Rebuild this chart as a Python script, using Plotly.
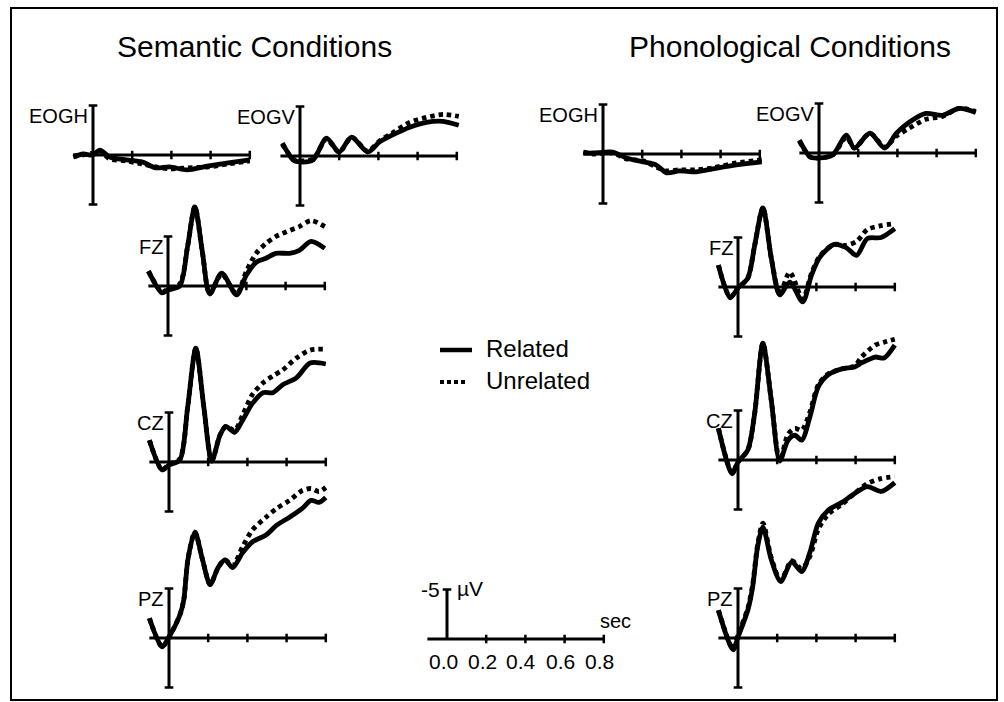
import plotly.graph_objects as go

# ---------------- data (µV, negative plotted up; time in s) ----------------
T_SEM_EOGH = [-0.1, -0.05, 0.0, 0.035, 0.086, 0.17, 0.25, 0.32, 0.39, 0.48, 0.59, 0.69, 0.80]
REL_SEM_EOGH = [0.2, -0.1, 0.0, -0.5, 0.2, 0.5, 0.7, 1.3, 1.2, 1.5, 1.1, 0.8, 0.5]
UNR_SEM_EOGH = [0.1, 0.0, -0.2, -0.4, 0.4, 0.6, 0.9, 1.2, 1.4, 1.3, 1.2, 0.9, 0.6]

T_SEM_EOGV = [-0.09, -0.035, 0.0, 0.067, 0.135, 0.2, 0.263, 0.345, 0.405, 0.47, 0.56, 0.645, 0.73, 0.81]
REL_SEM_EOGV = [-1.3, 0.4, 0.6, 0.4, -1.8, -0.4, -1.9, -0.4, -1.4, -2.1, -2.9, -3.4, -3.5, -3.1]
UNR_SEM_EOGV = [-1.2, 0.3, 0.5, 0.3, -1.7, -0.4, -1.9, -0.5, -1.5, -2.3, -3.4, -3.9, -4.2, -4.0]

T_SEM_FZ = [-0.1, -0.03, 0.0, 0.06, 0.1, 0.137, 0.175, 0.213, 0.274, 0.35, 0.40, 0.45, 0.50, 0.55, 0.62, 0.67, 0.73, 0.80]
REL_SEM_FZ = [-1.5, 0.7, 0.4, 0.0, -4.0, -8.0, -3.5, 0.8, -1.3, 0.9, -1.1, -2.4, -2.8, -3.3, -3.3, -3.6, -4.5, -3.8]
UNR_SEM_FZ = [-1.5, 0.6, 0.3, -0.2, -4.0, -8.0, -3.5, 0.8, -1.2, 0.8, -1.5, -3.3, -4.3, -5.0, -5.6, -6.0, -6.6, -6.0]

T_SEM_CZ = [-0.1, -0.035, 0.0, 0.055, 0.095, 0.137, 0.178, 0.218, 0.26, 0.29, 0.335, 0.375, 0.425, 0.48, 0.53, 0.58, 0.65, 0.72, 0.80]
REL_SEM_CZ = [-2.2, 0.8, 0.3, -0.2, -5.5, -11.5, -5.5, -0.1, -2.7, -3.6, -3.0, -4.2, -5.9, -7.0, -7.0, -7.8, -8.5, -10.0, -9.9]
UNR_SEM_CZ = [-2.2, 0.8, 0.2, -0.3, -5.5, -11.5, -5.5, -0.1, -2.7, -3.6, -3.2, -4.7, -6.8, -8.0, -8.7, -9.3, -10.5, -11.3, -11.4]

T_SEM_PZ = [-0.1, -0.035, 0.0, 0.055, 0.075, 0.097, 0.132, 0.17, 0.21, 0.25, 0.285, 0.325, 0.375, 0.425, 0.495, 0.55, 0.615, 0.68, 0.725, 0.765, 0.80]
REL_SEM_PZ = [-2.0, 0.9, -0.1, -2.3, -3.8, -8.0, -10.7, -8.0, -5.4, -7.1, -7.9, -7.1, -8.6, -9.7, -10.4, -11.4, -12.2, -13.1, -13.9, -13.7, -14.2]
UNR_SEM_PZ = [-2.0, 0.9, -0.1, -2.3, -3.8, -8.0, -10.7, -8.0, -5.4, -7.1, -7.9, -7.3, -9.2, -10.9, -12.2, -13.1, -13.9, -14.9, -15.1, -14.8, -15.2]

T_PHO_EOGH = [-0.1, -0.05, 0.05, 0.12, 0.205, 0.27, 0.325, 0.39, 0.475, 0.56, 0.68, 0.81]
REL_PHO_EOGH = [-0.1, -0.1, -0.2, 0.4, 0.8, 1.1, 1.9, 1.7, 1.8, 1.5, 1.1, 0.8]
UNR_PHO_EOGH = [-0.2, 0.0, -0.1, 0.5, 0.7, 1.3, 1.7, 1.6, 1.6, 1.4, 0.9, 0.6]

T_PHO_EOGV = [-0.1, -0.045, 0.0, 0.07, 0.14, 0.18, 0.26, 0.335, 0.395, 0.46, 0.545, 0.63, 0.715, 0.80]
REL_PHO_EOGV = [-1.3, 0.4, 0.5, 0.2, -1.8, -0.5, -2.0, -0.5, -2.0, -3.1, -4.0, -3.8, -4.5, -4.1]
UNR_PHO_EOGV = [-1.2, 0.4, 0.5, 0.2, -1.6, -0.5, -2.0, -0.6, -1.7, -2.5, -3.4, -3.7, -4.5, -4.2]

T_PHO_FZ = [-0.1, -0.04, 0.0, 0.05, 0.085, 0.127, 0.17, 0.213, 0.264, 0.33, 0.375, 0.417, 0.49, 0.55, 0.605, 0.66, 0.73, 0.80]
REL_PHO_FZ = [-2.2, 1.1, 0.1, -0.9, -4.2, -8.0, -2.9, 0.8, -0.5, 1.5, -1.2, -3.0, -4.3, -4.0, -3.2, -4.9, -5.0, -5.9]
UNR_PHO_FZ = [-2.2, 1.0, 0.1, -0.9, -4.2, -8.0, -2.9, 0.7, -1.5, 1.2, -1.4, -3.1, -4.3, -4.2, -4.6, -5.8, -6.2, -6.4]

T_PHO_CZ = [-0.1, -0.03, 0.0, 0.05, 0.085, 0.127, 0.17, 0.213, 0.255, 0.29, 0.325, 0.366, 0.41, 0.46, 0.53, 0.595, 0.63, 0.70, 0.745, 0.80]
REL_PHO_CZ = [-3.2, 1.4, 0.2, -1.0, -4.7, -11.8, -6.0, 0.1, -2.0, -2.5, -2.0, -4.3, -7.4, -8.6, -9.2, -9.4, -9.8, -10.4, -10.3, -11.6]
UNR_PHO_CZ = [-3.2, 1.3, 0.2, -1.0, -4.7, -11.8, -6.0, 0.1, -2.6, -3.2, -3.0, -4.8, -7.6, -8.7, -9.2, -9.5, -10.4, -11.6, -11.9, -12.2]

T_PHO_PZ = [-0.1, -0.025, 0.0, 0.05, 0.075, 0.10, 0.127, 0.17, 0.218, 0.274, 0.325, 0.366, 0.41, 0.46, 0.53, 0.595, 0.66, 0.73, 0.80]
REL_PHO_PZ = [-2.8, 1.2, -0.1, -2.8, -5.2, -9.2, -11.2, -7.9, -5.7, -7.7, -6.7, -8.6, -11.6, -12.9, -13.7, -14.6, -15.3, -14.8, -15.7]
UNR_PHO_PZ = [-2.8, 1.1, -0.3, -3.0, -5.4, -9.4, -11.6, -8.1, -5.8, -7.8, -7.0, -8.2, -11.0, -12.5, -13.5, -14.6, -15.6, -16.1, -16.3]

AXIS_TICKS = [0.2, 0.4, 0.6, 0.8]
SCALE_TICKS = [0.0, 0.2, 0.4, 0.6, 0.8]
TITLES = ["Semantic Conditions", "Phonological Conditions"]
LEGEND_NAMES = ["Related", "Unrelated"]

# ---------------- layout constants ----------------
W, H = 1004, 702
PX_S = 196.0     # pixels per second
PX_UV = 9.9      # pixels per microvolt
FONT = "Liberation Sans, Arial, Helvetica, sans-serif"
BLACK = "#000000"

# panel origin (pixel of t=0, v=0)
PANELS = [
    ("EOGH", T_SEM_EOGH, REL_SEM_EOGH, UNR_SEM_EOGH, 93, 155),
    ("EOGV", T_SEM_EOGV, REL_SEM_EOGV, UNR_SEM_EOGV, 300, 156),
    ("FZ", T_SEM_FZ, REL_SEM_FZ, UNR_SEM_FZ, 168, 286),
    ("CZ", T_SEM_CZ, REL_SEM_CZ, UNR_SEM_CZ, 169, 462),
    ("PZ", T_SEM_PZ, REL_SEM_PZ, UNR_SEM_PZ, 169, 638),
    ("EOGH", T_PHO_EOGH, REL_PHO_EOGH, UNR_PHO_EOGH, 603, 154),
    ("EOGV", T_PHO_EOGV, REL_PHO_EOGV, UNR_PHO_EOGV, 819, 153),
    ("FZ", T_PHO_FZ, REL_PHO_FZ, UNR_PHO_FZ, 738, 287),
    ("CZ", T_PHO_CZ, REL_PHO_CZ, UNR_PHO_CZ, 738, 460),
    ("PZ", T_PHO_PZ, REL_PHO_PZ, UNR_PHO_PZ, 738, 638),
]
SCALE_ORIGIN = (447, 639)

fig = go.Figure()
shapes = []
annotations = []


def make_axes(idx, ox, oy, xr=(-0.14, 0.88), yr=(-18.0, 6.5)):
    x0 = max(ox + xr[0] * PX_S, 0)
    x1 = min(ox + xr[1] * PX_S, W)
    ytop = max(oy + yr[0] * PX_UV, 0)
    ybot = min(oy + yr[1] * PX_UV, H)
    rx = [(x0 - ox) / PX_S, (x1 - ox) / PX_S]
    ry = [(ybot - oy) / PX_UV, (ytop - oy) / PX_UV]  # reversed: negative up
    sfx = "" if idx == 1 else str(idx)
    fig.layout["xaxis" + sfx] = dict(domain=[x0 / W, x1 / W], range=rx, visible=False,
                                     fixedrange=True, anchor="y" + sfx)
    fig.layout["yaxis" + sfx] = dict(domain=[1 - ybot / H, 1 - ytop / H], range=ry, visible=False,
                                     fixedrange=True, anchor="x" + sfx)
    return "x" + sfx, "y" + sfx


def seg(xref, yref, xa, ya, xb, yb, w=3):
    shapes.append(dict(type="line", xref=xref, yref=yref, x0=xa, y0=ya, x1=xb, y1=yb,
                       line=dict(color=BLACK, width=w)))


CAP = 0.022
TK = 0.42

for i, (label, t, rel, unr, ox, oy) in enumerate(PANELS, start=1):
    xr, yr = make_axes(i, ox, oy)
    # axes
    seg(xr, yr, -0.1, 0, 0.8, 0)
    for tk in AXIS_TICKS:
        seg(xr, yr, tk, -TK, tk, TK, 2.5)
    seg(xr, yr, 0, -5, 0, 5)
    seg(xr, yr, -CAP, -5, CAP, -5, 2.5)
    seg(xr, yr, -CAP, 5, CAP, 5, 2.5)
    # curves
    fig.add_trace(go.Scatter(x=t, y=unr, xaxis=xr, yaxis=yr, mode="lines",
                             line=dict(color=BLACK, width=4.8, dash="4.5px,4px", shape="spline", smoothing=0.8),
                             name=LEGEND_NAMES[1], showlegend=False, hoverinfo="skip"))
    fig.add_trace(go.Scatter(x=t, y=rel, xaxis=xr, yaxis=yr, mode="lines",
                             line=dict(color=BLACK, width=4.8, shape="spline", smoothing=0.8),
                             name=LEGEND_NAMES[0], showlegend=False, hoverinfo="skip"))
    annotations.append(dict(xref=xr, yref=yr, x=0, y=-3.9, text=label, showarrow=False,
                            xanchor="right", yanchor="middle", xshift=-3,
                            font=dict(family=FONT, size=20, color=BLACK)))

# scale bar panel
si = len(PANELS) + 1
sx, sy = make_axes(si, *SCALE_ORIGIN, xr=(-0.2, 0.95), yr=(-8, 4))
seg(sx, sy, -0.1, 0, 0.8, 0)
for tk in AXIS_TICKS:
    seg(sx, sy, tk, -TK, tk, TK, 2.5)
seg(sx, sy, 0, 0, 0, -5)
seg(sx, sy, -CAP, -5, CAP, -5, 2.5)
for tk in SCALE_TICKS:
    annotations.append(dict(xref=sx, yref=sy, x=tk, y=2.3, text=f"{tk:.1f}", showarrow=False,
                            xanchor="center", yanchor="middle", xshift=-4,
                            font=dict(family=FONT, size=21, color=BLACK)))
annotations.append(dict(xref=sx, yref=sy, x=0, y=-5, text="-5", showarrow=False,
                        xanchor="right", yanchor="middle", xshift=-5,
                        font=dict(family=FONT, size=21, color=BLACK)))
annotations.append(dict(xref=sx, yref=sy, x=0, y=-5, text="\u00b5V", showarrow=False,
                        xanchor="left", yanchor="middle", xshift=8, yshift=1,
                        font=dict(family=FONT, size=21, color=BLACK)))
annotations.append(dict(xref=sx, yref=sy, x=0.8, y=-1.8, text="sec", showarrow=False,
                        xanchor="left", yanchor="middle", xshift=-6,
                        font=dict(family=FONT, size=20, color=BLACK)))

# titles
for title, cx in zip(TITLES, [254, 790]):
    annotations.append(dict(xref="paper", yref="paper", x=cx / W, y=1 - 46 / H, text=title,
                            showarrow=False, xanchor="center", yanchor="middle",
                            font=dict(family=FONT, size=30, color=BLACK)))

# legend (manual)
for k, (name, yy) in enumerate(zip(LEGEND_NAMES, [350, 382])):
    shapes.append(dict(type="line", xref="paper", yref="paper",
                       x0=440 / W, x1=(472 if k == 0 else 468) / W, y0=1 - yy / H, y1=1 - yy / H,
                       line=dict(color=BLACK, width=4.5 if k == 0 else 4,
                                 dash="solid" if k == 0 else "4px,3px")))
    annotations.append(dict(xref="paper", yref="paper", x=484 / W, y=1 - (yy - 1) / H, text=name,
                            showarrow=False, xanchor="left", yanchor="middle",
                            font=dict(family=FONT, size=24, color=BLACK)))

# border frame
shapes.append(dict(type="rect", xref="paper", yref="paper", x0=11 / W, x1=997 / W,
                   y0=1 - 700 / H, y1=1 - 8 / H, line=dict(color=BLACK, width=2)))

fig.update_layout(width=W, height=H, autosize=False, margin=dict(l=0, r=0, t=0, b=0, pad=0),
                  paper_bgcolor="white", plot_bgcolor="rgba(0,0,0,0)", showlegend=False,
                  shapes=shapes, annotations=annotations)

fig.write_html("out.html", config={"displayModeBar": False})
